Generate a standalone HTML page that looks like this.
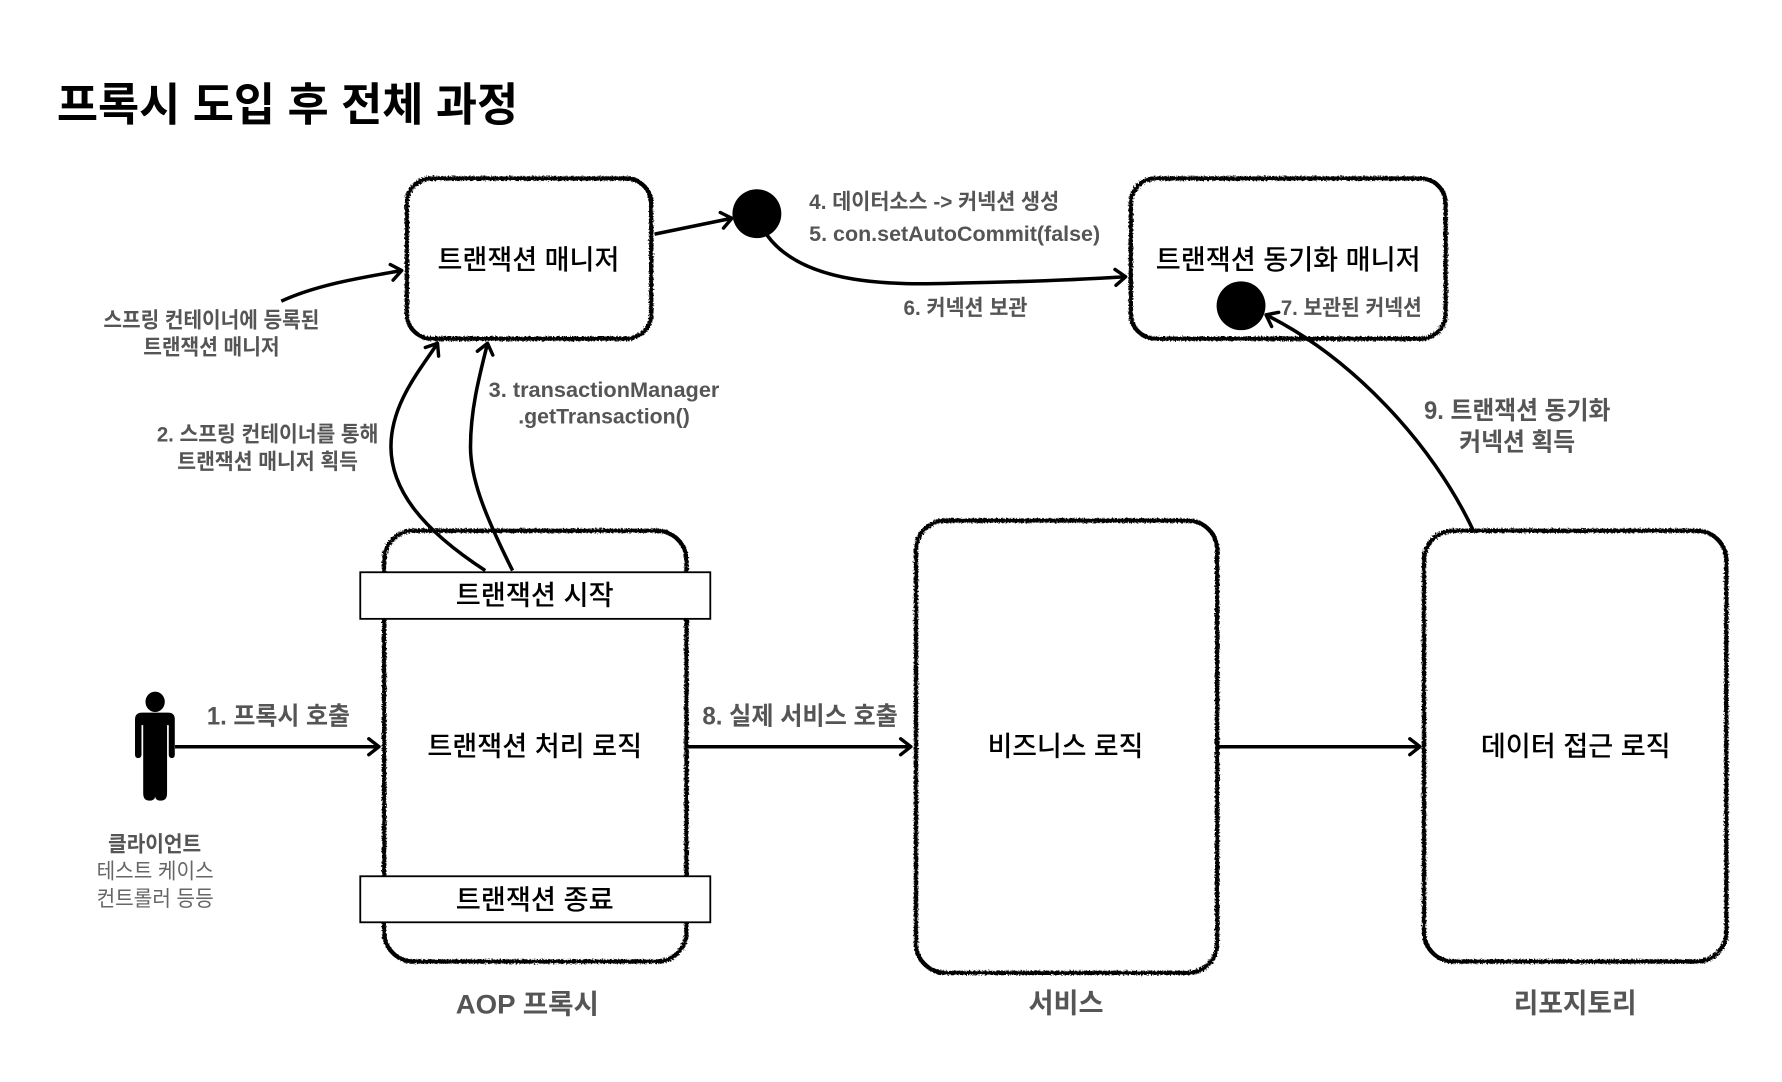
<!DOCTYPE html>
<html lang="ko">
<head>
<meta charset="utf-8">
<title>프록시 도입 후 전체 과정</title>
<style>
html,body{margin:0;padding:0;background:#fff;width:1782px;height:1082px;overflow:hidden}
svg{display:block}
text{font-family:"Liberation Sans","Noto Sans CJK KR",sans-serif;dominant-baseline:central;transform:translateY(1.4px)}
.b{font-weight:500;fill:#000;font-size:24px}
.g{font-weight:700;fill:#555;font-size:19px}
.l{font-weight:700;fill:#555;font-size:22px}
.c{font-weight:400;fill:#666;font-size:19px}
.box{fill:#fff;stroke:#000;stroke-width:3.8;filter:url(#rough)}
.ar{fill:none;stroke:#000;stroke-width:3.1;marker-end:url(#h)}
.r{fill:#fff;stroke:#000;stroke-width:1.6}
</style>
</head>
<body>
<svg width="1782" height="1082" viewBox="0 0 1568 952" xmlns="http://www.w3.org/2000/svg">
<defs>
<filter id="rough" x="-5%" y="-5%" width="110%" height="110%">
<feTurbulence type="fractalNoise" baseFrequency="0.7" numOctaves="2" seed="3"/>
<feDisplacementMap in="SourceGraphic" scale="3.6"/>
</filter>
<marker id="h" markerUnits="userSpaceOnUse" markerWidth="16" markerHeight="18" refX="11" refY="8" orient="auto" overflow="visible">
<path d="M2,1 L11,8 L2,15" fill="none" stroke="#000" stroke-width="3" stroke-linecap="round" stroke-linejoin="round"/>
</marker>
</defs>
<rect width="1568" height="952" fill="#fff"/>

<text x="50" y="91" textLength="406" lengthAdjust="spacingAndGlyphs" style="font-size:40px;font-weight:700;fill:#000">프록시 도입 후 전체 과정</text>

<rect class="box" x="358" y="157" width="215" height="141" rx="22"/>
<rect class="box" x="995" y="157" width="277" height="141" rx="22"/>
<rect class="box" x="338" y="467" width="266" height="379" rx="26"/>
<rect class="box" x="806" y="458" width="265" height="398" rx="26"/>
<rect class="box" x="1253" y="467" width="266" height="379" rx="26"/>

<path class="ar" d="M247.5,265 C280,250 320,244 353.500,238"/>
<path class="ar" d="M427,502 C370,465 344,430 344,393 C344,355 370,325 385,302"/>
<path class="ar" d="M451,502 C425,450 414,420 414,393 C414,360 422,330 429,302"/>
<path class="ar" d="M576,206 L644,192"/>
<path class="ar" d="M675,207 C710,255 800,250 846,249 C900,248 950,246 990.500,243.500"/>
<path class="ar" d="M154,657 L333.500,657"/>
<path class="ar" d="M605,657 L801.500,657"/>
<path class="ar" d="M1072,657 L1249.500,657"/>

<circle cx="666" cy="188" r="21.5" fill="#000"/>
<circle cx="1092" cy="269" r="21.5" fill="#000"/>
<path class="ar" d="M1296,466 C1260,390 1190,315 1114,277"/>

<rect class="r" x="317" y="503.500" width="308" height="41"/>
<rect class="r" x="317" y="771" width="308" height="40.500"/>

<!-- person -->
<g fill="#000">
<ellipse cx="136.500" cy="617.500" rx="8.500" ry="9"/>
<path d="M125,627 H148 Q153.800,627 153.800,633 V664 Q153.800,667 151.300,667 Q148.500,667 148.500,664 V638 H147 V698 Q147,704.500 141.500,704.500 Q137,704.500 136.500,701 Q136,704.500 131.500,704.500 Q126,704.500 126,698 V638 H124.500 V664 Q124.500,667 121.500,667 Q118.800,667 118.800,664 V633 Q118.800,627 125,627 Z"/>
</g>

<text class="b" x="385" y="227" textLength="160" lengthAdjust="spacingAndGlyphs">트랜잭션 매니저</text>
<text class="b" x="1017" y="227" textLength="233" lengthAdjust="spacingAndGlyphs">트랜잭션 동기화 매니저</text>
<text class="b" x="401" y="522" textLength="139" lengthAdjust="spacingAndGlyphs">트랜잭션 시작</text>
<text class="b" x="376" y="655" textLength="189" lengthAdjust="spacingAndGlyphs">트랜잭션 처리 로직</text>
<text class="b" x="401" y="790" textLength="139" lengthAdjust="spacingAndGlyphs">트랜잭션 종료</text>
<text class="b" x="869" y="655" textLength="137" lengthAdjust="spacingAndGlyphs">비즈니스 로직</text>
<text class="b" x="1303" y="655" textLength="167" lengthAdjust="spacingAndGlyphs">데이터 접근 로직</text>

<text class="g" x="91" y="280" textLength="190" lengthAdjust="spacingAndGlyphs">스프링 컨테이너에 등록된</text>
<text class="g" x="126" y="304" textLength="120" lengthAdjust="spacingAndGlyphs">트랜잭션 매니저</text>
<text class="g" x="138" y="380.500" textLength="195" lengthAdjust="spacingAndGlyphs">2. 스프링 컨테이너를 통해</text>
<text class="g" x="156" y="404.500" textLength="159" lengthAdjust="spacingAndGlyphs">트랜잭션 매니저 획득</text>
<text class="g" x="430" y="341.500" textLength="203" lengthAdjust="spacingAndGlyphs">3. transactionManager</text>
<text class="g" x="456" y="364.500" textLength="151" lengthAdjust="spacingAndGlyphs">.getTransaction()</text>
<text class="g" x="712" y="176" textLength="220" lengthAdjust="spacingAndGlyphs">4. 데이터소스 -&gt; 커넥션 생성</text>
<text class="g" x="712" y="204" textLength="256" lengthAdjust="spacingAndGlyphs">5. con.setAutoCommit(false)</text>
<text class="g" x="795" y="269" textLength="109" lengthAdjust="spacingAndGlyphs">6. 커넥션 보관</text>
<text class="g" x="1127" y="269" textLength="124" lengthAdjust="spacingAndGlyphs">7. 보관된 커넥션</text>

<text class="l" x="1253" y="360" textLength="164" lengthAdjust="spacingAndGlyphs">9. 트랜잭션 동기화</text>
<text class="l" x="1284" y="388" textLength="102" lengthAdjust="spacingAndGlyphs">커넥션 획득</text>
<text class="l" x="182" y="629" textLength="126" lengthAdjust="spacingAndGlyphs">1. 프록시 호출</text>
<text class="l" x="618" y="629" textLength="172" lengthAdjust="spacingAndGlyphs">8. 실제 서비스 호출</text>

<text class="g" x="95" y="741" textLength="82" lengthAdjust="spacingAndGlyphs">클라이언트</text>
<text class="c" x="85" y="765" textLength="103" lengthAdjust="spacingAndGlyphs">테스트 케이스</text>
<text class="c" x="85" y="789" textLength="103" lengthAdjust="spacingAndGlyphs">컨트롤러 등등</text>

<text class="l" x="401" y="882" textLength="126" lengthAdjust="spacingAndGlyphs" style="font-size:24px">AOP 프록시</text>
<text class="l" x="905" y="881" textLength="66" lengthAdjust="spacingAndGlyphs" style="font-size:24px">서비스</text>
<text class="l" x="1332" y="881" textLength="108" lengthAdjust="spacingAndGlyphs" style="font-size:24px">리포지토리</text>
</svg>
</body>
</html>
